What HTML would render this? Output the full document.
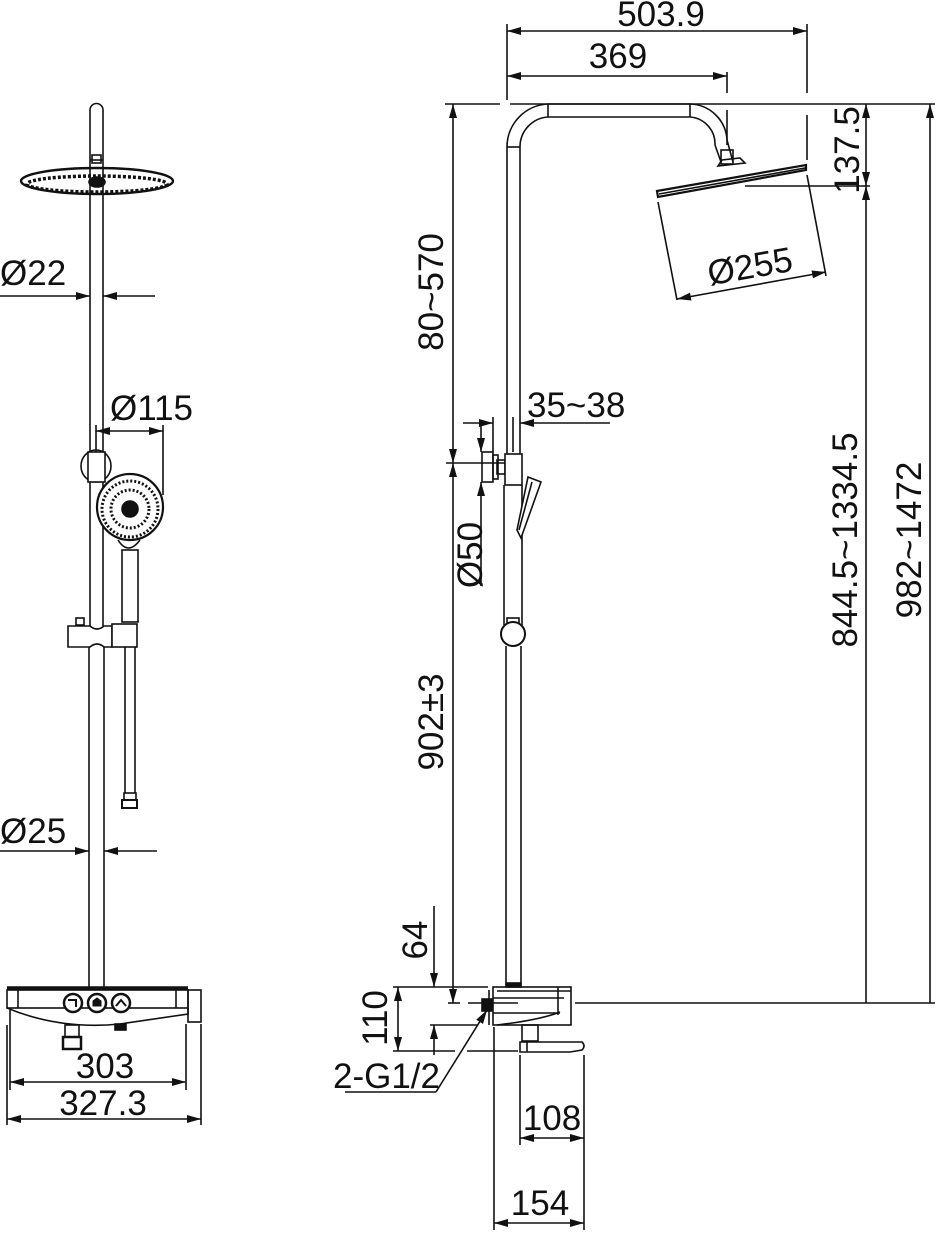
<!DOCTYPE html>
<html><head><meta charset="utf-8"><style>
html,body{margin:0;padding:0;background:#fff;}
svg{display:block;}
text{font-family:"Liberation Sans",sans-serif;font-size:35px;fill:#111;}
</style></head><body>
<svg width="946" height="1239" viewBox="0 0 946 1239" xmlns="http://www.w3.org/2000/svg">
<defs>
<marker id="a" viewBox="0 0 14 8" refX="14" refY="4" markerWidth="14" markerHeight="8" markerUnits="userSpaceOnUse" orient="auto-start-reverse"><path d="M0,0 L14,4 L0,8 z" fill="#111"/></marker>
</defs>
<g stroke="#111" stroke-width="1.6" fill="none">
<!-- ============ LEFT VIEW ============ -->
<path d="M90,626 L90,110 A6.5,6.5 0 0 1 103,110 L103,626"/>
<line x1="90" y1="160" x2="103" y2="160"/>
<rect x="92" y="155" width="9" height="8"/>
<ellipse cx="97" cy="181" rx="76" ry="13" stroke-width="2.4"/>
<ellipse cx="97" cy="184" rx="70" ry="8" stroke-dasharray="3 2" stroke-width="3.5"/>
<ellipse cx="97" cy="182" rx="8" ry="5" fill="#111"/>
<line x1="0" y1="296" x2="90" y2="296" marker-end="url(#a)"/>
<line x1="155" y1="296" x2="103" y2="296" marker-end="url(#a)"/>
<line x1="96" y1="425" x2="96" y2="480"/>
<line x1="163" y1="425" x2="163" y2="495"/>
<line x1="96" y1="431" x2="163" y2="431" marker-start="url(#a)" marker-end="url(#a)"/>
<ellipse cx="96" cy="466" rx="15" ry="16"/>
<rect x="88" y="452" width="17" height="30" fill="#fff"/>
<circle cx="130" cy="507" r="33" stroke-width="2.2" fill="#fff"/>
<circle cx="130" cy="509" r="28" stroke-dasharray="2 2" stroke-width="3"/>
<circle cx="130" cy="509" r="19" stroke-dasharray="2 2" stroke-width="3"/>
<circle cx="130" cy="509" r="8" fill="#111"/>
<path d="M118,540 Q128,556 140,540"/>
<rect x="122" y="550" width="16" height="72"/>
<path d="M68,626 L90,626 Q97,632 104,626 L112,626 L112,647 L104,647 Q97,641 90,647 L68,647 z" fill="#fff"/>
<rect x="112" y="624" width="25" height="23" fill="#fff"/>
<rect x="76" y="618" width="8" height="7"/>
<line x1="125" y1="647" x2="125" y2="793"/>
<line x1="135" y1="647" x2="135" y2="793"/>
<rect x="124" y="793" width="12" height="7"/>
<rect x="122" y="800" width="15" height="8" stroke-width="2"/>
<line x1="89" y1="647" x2="89" y2="987"/>
<line x1="104" y1="647" x2="104" y2="987"/>
<line x1="0" y1="851" x2="89" y2="851" marker-end="url(#a)"/>
<line x1="157" y1="851" x2="104" y2="851" marker-end="url(#a)"/>
<line x1="7" y1="988" x2="188" y2="988" stroke-width="3.5"/>
<rect x="7" y="990" width="181" height="18"/>
<line x1="18" y1="990" x2="18" y2="1008"/><line x1="176" y1="990" x2="176" y2="1008"/>
<path d="M7,1008 Q60,1030 120,1024 L188,1014 L188,1008"/>
<rect x="188" y="990" width="13" height="32"/>
<circle cx="73" cy="1003" r="9" stroke-width="2.5" fill="#fff"/>
<circle cx="97" cy="1003" r="9" stroke-width="2.5" fill="#fff"/>
<circle cx="121" cy="1003" r="9" stroke-width="2.5" fill="#fff"/>
<path d="M68,1000 L76,1000 L76,1007" stroke-width="2"/>
<path d="M93,1006 L93,1001 L97,998 L101,1001 L101,1006z" fill="#111" stroke-width="1"/>
<path d="M116,1006 L121,1000 L126,1006" stroke-width="2"/>
<rect x="65" y="1025" width="14" height="12"/>
<rect x="63" y="1037" width="18" height="12" stroke-width="2.5"/>
<rect x="115" y="1024" width="11" height="6" fill="#111"/>
<line x1="10" y1="1010" x2="10" y2="1090"/>
<line x1="186" y1="1024" x2="186" y2="1090"/>
<line x1="7" y1="1025" x2="7" y2="1125"/>
<line x1="201" y1="1024" x2="201" y2="1125"/>
<line x1="10" y1="1082" x2="186" y2="1082" marker-start="url(#a)" marker-end="url(#a)"/>
<line x1="7" y1="1119" x2="201" y2="1119" marker-start="url(#a)" marker-end="url(#a)"/>

<!-- ============ RIGHT VIEW ============ -->
<line x1="507" y1="24" x2="507" y2="100"/>
<line x1="807" y1="24" x2="807" y2="93"/>
<line x1="727" y1="72" x2="727" y2="93"/>
<line x1="727" y1="110" x2="727" y2="145"/>
<line x1="507" y1="31" x2="807" y2="31" marker-start="url(#a)" marker-end="url(#a)"/>
<line x1="507" y1="76" x2="727" y2="76" marker-start="url(#a)" marker-end="url(#a)"/>
<line x1="445" y1="104" x2="500" y2="104"/>
<line x1="510" y1="104" x2="935" y2="104"/>
<path d="M507,454 L507,147 A43,43 0 0 1 548,104 L690,104 A38,38 0 0 1 727,140"/>
<path d="M520,454 L520,147 A30,30 0 0 1 548,117 L690,117 A27,27 0 0 1 715,145"/>
<line x1="507" y1="147" x2="520" y2="147"/>
<line x1="548" y1="104" x2="548" y2="117"/>
<line x1="690" y1="104" x2="690" y2="117"/>
<path d="M715,145 L721,162 M727,140 L733,162"/>
<rect x="721" y="150" width="12" height="14"/>
<path d="M718,166 L722,160 L740,158 L745,163 Z"/>
<path d="M657,191 L806,165 L806,170 L658,197 Z" stroke-width="2.2"/>
<line x1="659" y1="194" x2="805" y2="168"/>
<line x1="658" y1="202" x2="677" y2="300"/>
<line x1="807" y1="175" x2="826" y2="276"/>
<line x1="677" y1="299" x2="826" y2="272" marker-start="url(#a)" marker-end="url(#a)"/>
<line x1="807" y1="115" x2="807" y2="160"/>
<line x1="745" y1="186" x2="870" y2="186"/>
<line x1="866" y1="104" x2="866" y2="186" marker-start="url(#a)" marker-end="url(#a)"/>
<line x1="866" y1="186" x2="866" y2="1003" marker-start="url(#a)"/>
<line x1="930" y1="104" x2="930" y2="1003" marker-start="url(#a)"/>
<line x1="575" y1="1003" x2="935" y2="1003"/>
<line x1="453" y1="104" x2="453" y2="463" marker-start="url(#a)" marker-end="url(#a)"/>
<line x1="453" y1="463" x2="453" y2="1003" marker-start="url(#a)" marker-end="url(#a)"/>
<line x1="446" y1="463" x2="505" y2="463"/>
<rect x="482" y="452" width="11" height="30"/>
<rect x="493" y="455" width="5" height="24"/>
<rect x="497" y="460" width="8" height="14"/>
<rect x="505" y="454" width="17" height="31" fill="#fff"/>
<line x1="493" y1="417" x2="493" y2="452"/>
<line x1="463" y1="423" x2="493" y2="423" marker-end="url(#a)"/>
<line x1="481" y1="420" x2="481" y2="452" marker-end="url(#a)"/>
<line x1="481" y1="586" x2="481" y2="482" marker-end="url(#a)"/>
<line x1="513" y1="417" x2="513" y2="452"/>
<line x1="610" y1="423" x2="520" y2="423" marker-end="url(#a)"/>
<line x1="504" y1="485" x2="504" y2="625"/>
<line x1="522" y1="485" x2="522" y2="625"/>
<path d="M528,477 L541,482 L521,538 L517,530 Z" fill="#fff"/>
<line x1="532" y1="482" x2="519" y2="530"/>
<rect x="507" y="618" width="12" height="7"/>
<circle cx="513" cy="634" r="12" stroke-width="2" fill="#fff"/>
<line x1="506" y1="646" x2="506" y2="985"/>
<line x1="521" y1="646" x2="521" y2="985"/>
<rect x="506" y="983" width="15" height="4" fill="#111"/>
<rect x="493" y="987" width="78" height="38"/>
<line x1="497" y1="991" x2="571" y2="991"/>
<line x1="489" y1="990" x2="489" y2="1025"/>
<line x1="493" y1="998" x2="564" y2="998"/>
<line x1="493" y1="1013" x2="560" y2="1013"/>
<line x1="558" y1="987" x2="558" y2="1015"/>
<path d="M497,1025 Q540,1020 560,1012"/>
<rect x="482" y="999" width="10" height="12" fill="#111"/>
<rect x="522" y="1025" width="16" height="16"/>
<path d="M520,1042 L582,1042 Q586,1046 582,1050 L570,1052 L520,1052 Z"/>
<line x1="527" y1="1042" x2="527" y2="1052"/>
<line x1="434" y1="906" x2="434" y2="987" marker-end="url(#a)"/>
<line x1="434" y1="1055" x2="434" y2="1025" marker-end="url(#a)"/>
<line x1="398" y1="987" x2="398" y2="1051" marker-start="url(#a)" marker-end="url(#a)"/>
<line x1="393" y1="987" x2="488" y2="987"/>
<line x1="430" y1="1025" x2="478" y2="1025"/>
<line x1="393" y1="1051" x2="455" y2="1051"/>
<line x1="467" y1="1051" x2="518" y2="1051"/>
<line x1="448" y1="1003" x2="460" y2="1003"/>
<line x1="468" y1="1003" x2="518" y2="1003"/>
<polyline points="345,1092 436,1092"/>
<line x1="436" y1="1092" x2="487" y2="1010" marker-end="url(#a)"/>
<line x1="494" y1="1027" x2="494" y2="1230"/>
<line x1="520" y1="1055" x2="520" y2="1145"/>
<line x1="584" y1="1055" x2="584" y2="1230"/>
<line x1="520" y1="1138" x2="584" y2="1138" marker-start="url(#a)" marker-end="url(#a)"/>
<line x1="494" y1="1223" x2="584" y2="1223" marker-start="url(#a)" marker-end="url(#a)"/>
</g>
<text x="0" y="285">Ø22</text>
<text x="110" y="420">Ø115</text>
<text x="0" y="843">Ø25</text>
<text x="105" y="1078" text-anchor="middle">303</text>
<text x="103" y="1115" text-anchor="middle">327.3</text>
<text x="661" y="26" text-anchor="middle">503.9</text>
<text x="618" y="68" text-anchor="middle">369</text>
<text x="527" y="417">35~38</text>
<text x="333" y="1088">2-G1/2</text>
<text x="552" y="1130" text-anchor="middle">108</text>
<text x="540" y="1215" text-anchor="middle">154</text>
<text transform="translate(859,150) rotate(-90)" text-anchor="middle">137.5</text>
<text transform="translate(857,540) rotate(-90)" text-anchor="middle">844.5~1334.5</text>
<text transform="translate(921,540) rotate(-90)" text-anchor="middle">982~1472</text>
<text transform="translate(443,292) rotate(-90)" text-anchor="middle">80~570</text>
<text transform="translate(482,555) rotate(-90)" text-anchor="middle">Ø50</text>
<text transform="translate(443,722) rotate(-90)" text-anchor="middle">902±3</text>
<text transform="translate(427,940) rotate(-90)" text-anchor="middle">64</text>
<text transform="translate(387,1018) rotate(-90)" text-anchor="middle">110</text>
<text transform="translate(752,278) rotate(-10)" text-anchor="middle">Ø255</text>
</svg>
</body></html>
